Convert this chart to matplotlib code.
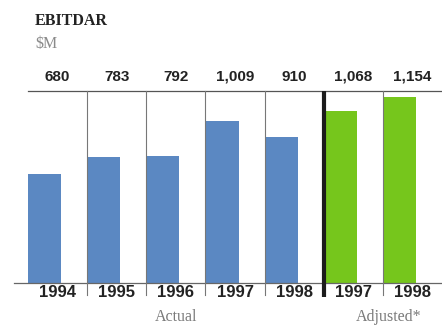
import matplotlib
matplotlib.use("Agg")
import matplotlib.pyplot as plt

# EBITDAR, $ millions
actual_years = ["1994", "1995", "1996", "1997", "1998"]
actual_values = [680, 783, 792, 1009, 910]
adjusted_years = ["1997", "1998"]
adjusted_values = [1068, 1154]
value_labels = ["680", "783", "792", "1,009", "910", "1,068", "1,154"]

BLUE = "#5b88c2"
GREEN = "#76c61c"
Y_TOP = 1193

fig = plt.figure(figsize=(4.42, 3.26), dpi=100)
ax = fig.add_axes([28 / 442, 43 / 326, 414 / 442, 192 / 326])
ax.set_xlim(0, 7)
ax.set_ylim(0, Y_TOP)
ax.axis("off")

n_act = len(actual_values)
act_x = list(range(n_act))
adj_x = [n_act + i for i in range(len(adjusted_values))]

ax.bar(act_x, actual_values, width=0.56, align="edge", color=BLUE, zorder=2)
ax.bar(adj_x, adjusted_values, width=0.56, align="edge", color=GREEN, zorder=2)

# frame: top rule, baseline, column dividers
ax.plot([0, 7], [Y_TOP, Y_TOP], color="#555555", lw=0.9, clip_on=False, zorder=3)
ax.plot([-0.24, 7], [0, 0], color="#666666", lw=0.9, clip_on=False, zorder=3)
for x in [1, 2, 3, 4, 6]:
    ax.plot([x, x], [-72, Y_TOP], color="#777777", lw=0.8, clip_on=False, zorder=3)
ax.plot([5, 5], [-88, Y_TOP], color="#1c1c1c", lw=3.0, clip_on=False,
        solid_capstyle="butt", zorder=4)

# value labels above each column, year labels below
all_years = actual_years + adjusted_years
for i, (lab, yr) in enumerate(zip(value_labels, all_years)):
    ax.text(i + 0.5, 1282, lab, ha="center", va="center", fontsize=11,
            fontweight="bold", family="Liberation Sans", color="#222222",
            clip_on=False)
    ax.text(i + 0.5, -62, yr, ha="center", va="center", fontsize=12,
            fontweight="bold", family="Liberation Sans", color="#222222",
            clip_on=False)

ax.text(2.5, -212, "Actual", ha="center", va="center", fontsize=11.5,
        family="Liberation Serif", color="#7a7a7a", clip_on=False)
ax.text(6.1, -212, "Adjusted*", ha="center", va="center", fontsize=11.5,
        family="Liberation Serif", color="#7a7a7a", clip_on=False)

fig.text(35 / 442, 1 - 21 / 326, "EBITDAR", ha="left", va="center",
         fontsize=11.5, fontweight="bold", family="Liberation Serif",
         color="#222222")
fig.text(35 / 442, 1 - 44 / 326, "$M", ha="left", va="center",
         fontsize=11.5, family="Liberation Serif", color="#8a8a8a")

fig.savefig("out.png", dpi=100)
